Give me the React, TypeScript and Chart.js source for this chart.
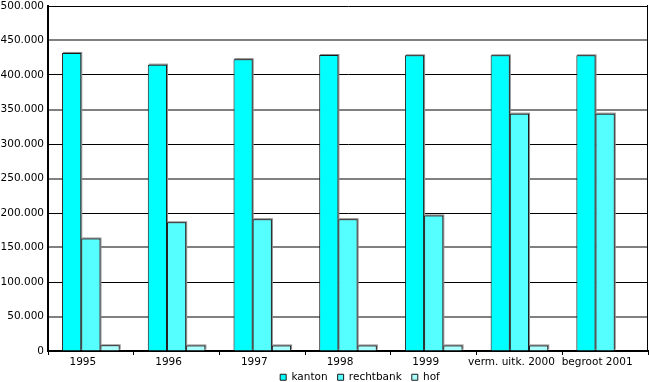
import React, { useEffect, useRef } from "react";
import { Chart, registerables } from "chart.js";

Chart.register(...registerables);

const categories = ["1995", "1996", "1997", "1998", "1999", "verm. uitk. 2000", "begroot 2001"];
const kanton = [432000, 415000, 423000, 429000, 428500, 428500, 428500];
const rechtbank = [163000, 186500, 191000, 191000, 196500, 344000, 344000];
const hof = [8200, 8000, 8000, 8000, 8000, 8000, 0];
const seriesNames = ["kanton", "rechtbank", "hof"];
const yTicksMax = 500000;
const yStep = 50000;

const fmt = (v: number) => {
  const s = Math.round(v).toString();
  return s.replace(/\B(?=(\d{3})+(?!\d))/g, ".");
};

const FONT = "'DejaVu Sans', Verdana, sans-serif";

export default function App() {
  const ref = useRef<HTMLCanvasElement | null>(null);

  useEffect(() => {
    if (!ref.current) return;
    const shadowPlugin = {
      id: "barShadow",
      beforeDatasetsDraw(chart: any) {
        const ctx = chart.ctx;
        ctx.save();
        ctx.fillStyle = "#8a8a8a";
        chart.data.datasets.forEach((_: any, di: number) => {
          const meta = chart.getDatasetMeta(di);
          meta.data.forEach((bar: any) => {
            const { x, y, base, width } = bar.getProps(["x", "y", "base", "width"], true);
            const h = base - y;
            if (h <= 0.5) return;
            ctx.fillRect(x - width / 2 + 1, y - 1, width, h);
          });
        });
        ctx.restore();
      },
    };
    const borderPlugin = {
      id: "rightBorder",
      afterDraw(chart: any) {
        const { ctx, chartArea } = chart;
        ctx.save();
        ctx.strokeStyle = "#000";
        ctx.lineWidth = 1;
        ctx.beginPath();
        ctx.moveTo(Math.round(chartArea.right) - 0.5, chartArea.top - 1);
        ctx.lineTo(Math.round(chartArea.right) - 0.5, chartArea.bottom);
        ctx.stroke();
        ctx.restore();
      },
    };
    const legendFitPlugin = {
      id: "legendFit",
      beforeLayout(chart: any) {
        const lg = chart.legend;
        if (lg && !lg.__patched) {
          const orig = lg.fit.bind(lg);
          lg.fit = function () {
            orig();
            this.height = 14;
          };
          lg.__patched = true;
        }
      },
      afterLayout(chart: any) {
        const lg = chart.legend;
        if (lg) {
          lg.top = 362;
          lg.bottom = 382;
          lg.height = 20;
          lg.left += 12;
          lg.right += 12;
        }
      },
    };
    const chart = new Chart(ref.current, {
      type: "bar",
      data: {
        labels: categories,
        datasets: [
          { label: seriesNames[0], data: kanton, backgroundColor: "#00FFFF" },
          { label: seriesNames[1], data: rechtbank, backgroundColor: "#55FFFF" },
          { label: seriesNames[2], data: hof, backgroundColor: "#AAFFFF" },
        ].map((d) => ({
          ...d,
          borderColor: "#1a1a1a",
          borderWidth: 1,
          categoryPercentage: 0.672,
          barPercentage: 1.0,
        })),
      },
      options: {
        animation: false,
        responsive: false,
        maintainAspectRatio: false,
        layout: { padding: { left: 0, right: 1, top: 0, bottom: 0 } },
        plugins: {
          tooltip: { enabled: false },
          legend: {
            position: "bottom",
            fullSize: false,
            labels: {
              boxWidth: 6,
              boxHeight: 6,
              padding: 10,
              color: "#000",
              font: { family: FONT, size: 10.5 },
            },
          },
        },
        scales: {
          x: {
            offset: true,
            afterFit(scale: any) {
              scale.height = 17;
            },
            grid: {
              offset: true,
              drawOnChartArea: false,
              color: "#000",
              tickLength: 4,
            },
            border: { color: "#000", width: 2 },
            ticks: {
              color: "#000",
              font: { family: FONT, size: 10.5 },
              padding: 1,
              labelOffset: -8,
              maxRotation: 0,
              autoSkip: false,
            },
          },
          y: {
            min: 0,
            max: yTicksMax,
            afterFit(scale: any) {
              scale.width = 48;
              scale.paddingTop = 6;
            },
            grid: {
              drawTicks: false,
              color: (c: any) => ((c.tick && c.tick.value % (yStep * 2) === 0) ? "#000" : "#808080"),
              lineWidth: (c: any) => ((c.tick && c.tick.value % (yStep * 2) === 0) ? 1 : 2),
            },
            border: { color: "#000", width: 2 },
            ticks: {
              stepSize: yStep,
              color: "#000",
              padding: 4,
              font: { family: FONT, size: 10.5 },
              callback: (v: any) => fmt(Number(v)),
            },
          },
        },
      },
      plugins: [shadowPlugin, borderPlugin, legendFitPlugin],
    } as any);
    return () => chart.destroy();
  }, []);

  return (
    <div style={{ position: "fixed", left: 0, top: 0, width: 649, height: 382, background: "#fff" }}>
      <canvas ref={ref} width={649} height={382} style={{ width: 649, height: 382, display: "block" }} />
    </div>
  );
}
